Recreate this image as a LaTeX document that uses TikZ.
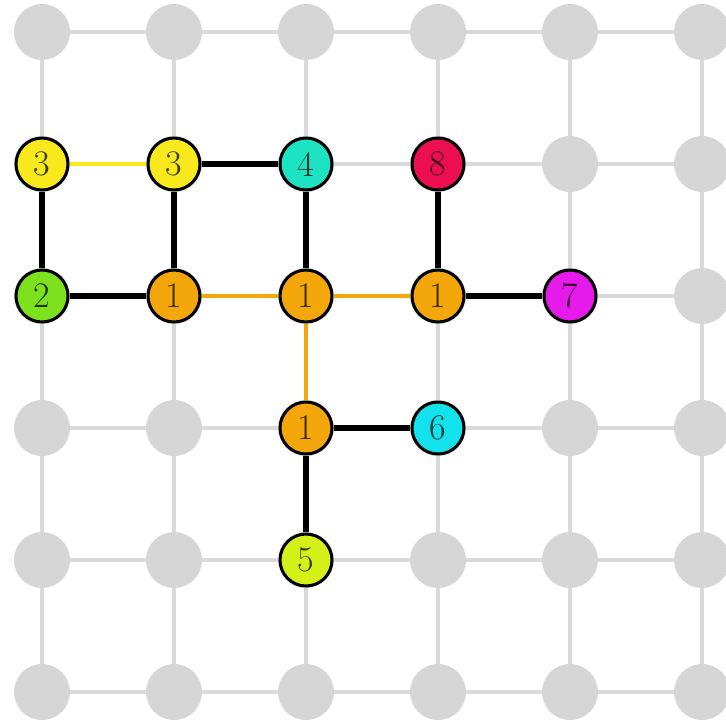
\documentclass[tikz,border=0pt]{standalone}
\pgfdeclarelayer{edges}
\pgfsetlayers{edges,main}
\definecolor{gridgray}{HTML}{DADADA}
\definecolor{dotgray}{HTML}{D6D6D6}
\definecolor{cyel}{HTML}{F7E91B}
\definecolor{cturq}{HTML}{1DE3C3}
\definecolor{ccrim}{HTML}{EB0F52}
\definecolor{cgreen}{HTML}{7DE11E}
\definecolor{corange}{HTML}{F4A70A}
\definecolor{cmag}{HTML}{E51AEB}
\definecolor{ccyan}{HTML}{13E2EC}
\definecolor{cyg}{HTML}{D5F019}
\tikzset{
  graydot/.style={circle, fill=dotgray, minimum size=28pt, inner sep=0pt},
  gridline/.style={draw=gridgray, line width=1.7pt},
  cnode/.style={circle, draw=black, line width=1.5pt, fill=#1, minimum size=26pt, inner sep=0pt,
    font=\fontsize{18}{18}\selectfont, text opacity=0.75},
  blackedge/.style={draw=black, line width=2.8pt},
  coledge/.style={draw=#1, line width=2pt},
}
\begin{document}
\begin{tikzpicture}[x=0.5pt,y=-0.5pt]
\useasboundingbox (0,0) rectangle (726,724);
\clip (0,0) rectangle (726,724);
% gray grid nodes
\foreach \c in {1,...,6}{
  \foreach \r in {1,...,6}{
    \node[graydot] (g-\c-\r) at ({42+132*(\c-1)},{32+132*(\r-1)}) {};
  }
}
% gray grid lines
\begin{pgfonlayer}{edges}
\foreach \c in {1,...,6}{
  \foreach \r [evaluate=\r as \rn using int(\r+1)] in {1,...,5}{
    \draw[gridline] (g-\c-\r.center) -- (g-\c-\rn.center);
    \draw[gridline] (g-\r-\c.center) -- (g-\rn-\c.center);
  }
}
\end{pgfonlayer}
% coloured nodes
\node[cnode=cyel] (a) at (g-1-2) {3};
\node[cnode=cyel] (b) at (g-2-2) {3};
\node[cnode=cturq] (c) at (g-3-2) {4};
\node[cnode=ccrim] (d) at (g-4-2) {8};
\node[cnode=cgreen] (e) at (g-1-3) {2};
\node[cnode=corange] (f) at (g-2-3) {1};
\node[cnode=corange] (h) at (g-3-3) {1};
\node[cnode=corange] (i) at (g-4-3) {1};
\node[cnode=cmag] (j) at (g-5-3) {7};
\node[cnode=corange] (k) at (g-3-4) {1};
\node[cnode=ccyan] (l) at (g-4-4) {6};
\node[cnode=cyg] (m) at (g-3-5) {5};
% coloured edges
\begin{pgfonlayer}{edges}
\draw[coledge=cyel] (a) -- (b);
\draw[blackedge] (b) -- (c);
\draw[blackedge] (a) -- (e);
\draw[blackedge] (b) -- (f);
\draw[blackedge] (c) -- (h);
\draw[blackedge] (e) -- (f);
\draw[coledge=corange] (f) -- (h);
\draw[coledge=corange] (h) -- (i);
\draw[coledge=corange] (h) -- (k);
\draw[blackedge] (d) -- (i);
\draw[blackedge] (i) -- (j);
\draw[blackedge] (k) -- (l);
\draw[blackedge] (k) -- (m);
\end{pgfonlayer}
\end{tikzpicture}
\end{document}
